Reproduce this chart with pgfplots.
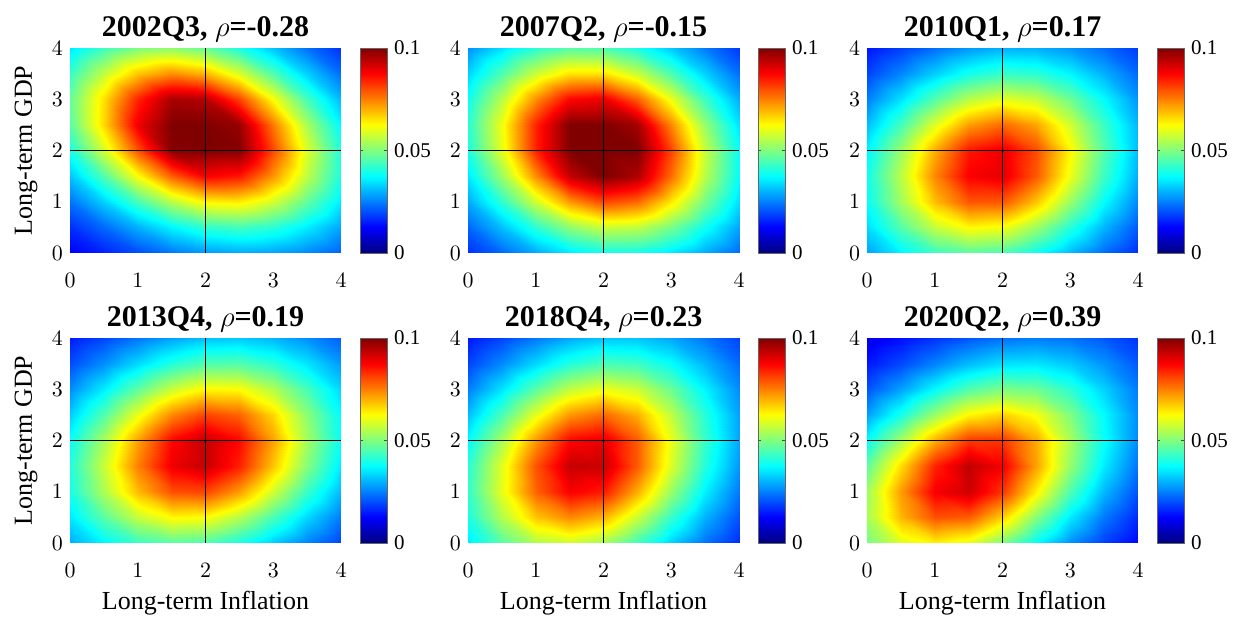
\documentclass[border=0pt]{standalone}
\usepackage{fontspec}
\setmainfont{Liberation Serif}
\usepackage{pgfplots}
\usepackage{pgfplotstable}
\pgfplotsset{compat=1.18}

% ---------- data: density on a 0.5 grid (x varies fastest) ----------
\pgfplotstableread{
x y z
0 0 .0120
0.5 0 .0156
1 0 .0198
1.5 0 .0241
2 0 .0275
2.5 0 .0291
3 0 .0285
3.5 0 .0258
4 0 .0218
0 0.5 .0170
0.5 0.5 .0229
1 0.5 .0299
1.5 0.5 .0369
2 0.5 .0422
2.5 0.5 .0441
3 0.5 .0416
3.5 0.5 .0359
4 0.5 .0287
0 1 .0237
0.5 1 .0330
1 1 .0442
1.5 1 .0554
2 1 .0631
2.5 1 .0641
3 1 .0577
3.5 1 .0470
4 1 .0355
0 1.5 .0319
0.5 1.5 .0456
1 1.5 .0623
1.5 1.5 .0784
2 1.5 .0878
2.5 1.5 .0855
3 1.5 .0729
3.5 1.5 .0560
4 1.5 .0401
0 2 .0403
0.5 2 .0584
1 2 .0799
1.5 2 .0992
2 2 .1000
2.5 2 .0996
3 2 .0805
3.5 2 .0589
4 2 .0407
0 2.5 .0463
0.5 2.5 .0664
1 2.5 .0891
1.5 2.5 .1000
2 2.5 .1000
2.5 2.5 .0977
3 2.5 .0759
3.5 2.5 .0541
4 2.5 .0369
0 3 .0473
0.5 3 .0657
1 3 .0843
1.5 3 .0960
2 3 .0947
2.5 3 .0811
3 3 .0621
3.5 3 .0442
4 3 .0304
0 3.5 .0429
0.5 3.5 .0566
1 3.5 .0685
1.5 3.5 .0740
2 3.5 .0703
2.5 3.5 .0593
3 3.5 .0457
3.5 3.5 .0331
4 3.5 .0233
0 4 .0351
0.5 4 .0436
1 4 .0499
1.5 4 .0515
2 4 .0478
2.5 4 .0403
3 4 .0316
3.5 4 .0235
4 4 .0171
}\tabA

\pgfplotstableread{
x y z
0 0 .0169
0.5 0 .0227
1 0 .0292
1.5 0 .0353
2 0 .0390
2.5 0 .0390
3 0 .0353
3.5 0 .0293
4 0 .0228
0 0.5 .0226
0.5 0.5 .0315
1 0.5 .0419
1.5 0.5 .0517
2 0.5 .0574
2.5 0.5 .0564
3 0.5 .0492
3.5 0.5 .0389
4 0.5 .0288
0 1 .0292
0.5 1 .0421
1 1 .0577
1.5 1 .0725
2 1 .0804
2.5 1 .0772
3 1 .0645
3.5 1 .0486
4 1 .0344
0 1.5 .0357
0.5 1.5 .0527
1 1.5 .0738
1.5 1.5 .0936
2 1.5 .1000
2.5 1.5 .0958
3 1.5 .0769
3.5 1.5 .0556
4 1.5 .0379
0 2 .0404
0.5 2 .0602
1 2 .0845
1.5 2 .1000
2 2 .1000
2.5 2 .1000
3 2 .0809
3.5 2 .0570
4 2 .0381
0 2.5 .0416
0.5 2.5 .0613
1 2.5 .0844
1.5 2.5 .1000
2 2.5 .1000
2.5 2.5 .0966
3 2.5 .0744
3.5 2.5 .0522
4 2.5 .0349
0 3 .0390
0.5 3 .0555
1 3 .0737
1.5 3 .0873
2 3 .0892
2.5 3 .0783
3 3 .0607
3.5 3 .0432
4 3 .0295
0 3.5 .0334
0.5 3.5 .0455
1 3.5 .0576
1.5 3.5 .0655
2 3.5 .0655
2.5 3.5 .0575
3 3.5 .0454
3.5 3.5 .0333
4 3.5 .0235
0 4 .0267
0.5 4 .0346
1 4 .0418
1.5 4 .0459
2 4 .0451
2.5 4 .0399
3 4 .0322
3.5 4 .0245
4 4 .0179
}\tabB

\pgfplotstableread{
x y z
0 0 .0283
0.5 0 .0363
1 0 .0431
1.5 0 .0463
2 0 .0445
2.5 0 .0385
3 0 .0306
3.5 0 .0230
4 0 .0167
0 0.5 .0342
0.5 0.5 .0459
1 0.5 .0569
1.5 0.5 .0631
2 0.5 .0616
2.5 0.5 .0530
3 0.5 .0413
3.5 0.5 .0302
4 0.5 .0212
0 1 .0383
0.5 1 .0534
1 1 .0689
1.5 1 .0791
2 1 .0788
2.5 1 .0681
3 1 .0525
3.5 1 .0375
4 1 .0258
0 1.5 .0392
0.5 1.5 .0559
1 1.5 .0744
1.5 1.5 .0881
2 1.5 .0900
2.5 1.5 .0789
3 1.5 .0609
3.5 1.5 .0433
4 1.5 .0295
0 2 .0365
0.5 2 .0524
1 2 .0706
1.5 2 .0854
2 2 .0894
2.5 2 .0803
3 2 .0632
3.5 2 .0455
4 2 .0312
0 2.5 .0312
0.5 2.5 .0444
1 2.5 .0595
1.5 2.5 .0724
2 2.5 .0774
2.5 2.5 .0716
3 2.5 .0583
3.5 2.5 .0432
4 2.5 .0303
0 3 .0250
0.5 3 .0347
1 3 .0457
1.5 3 .0554
2 3 .0599
2.5 3 .0571
3 3 .0483
3.5 3 .0374
4 3 .0272
0 3.5 .0192
0.5 3.5 .0258
1 3.5 .0331
1.5 3.5 .0396
2 3.5 .0431
2.5 3.5 .0421
3 3.5 .0371
3.5 3.5 .0300
4 3.5 .0228
0 4 .0143
0.5 4 .0186
1 4 .0233
1.5 4 .0274
2 4 .0299
2.5 4 .0297
3 4 .0271
3.5 4 .0228
4 4 .0182
}\tabC

\pgfplotstableread{
x y z
0 0 .0292
0.5 0 .0367
1 0 .0430
1.5 0 .0462
2 0 .0449
2.5 0 .0398
3 0 .0326
3.5 0 .0252
4 0 .0189
0 0.5 .0355
0.5 0.5 .0465
1 0.5 .0569
1.5 0.5 .0631
2 0.5 .0625
2.5 0.5 .0554
3 0.5 .0447
3.5 0.5 .0338
4 0.5 .0245
0 1 .0399
0.5 1 .0544
1 1 .0692
1.5 1 .0796
2 1 .0807
2.5 1 .0721
3 1 .0577
3.5 1 .0429
4 1 .0305
0 1.5 .0409
0.5 1.5 .0572
1 1.5 .0751
1.5 1.5 .0892
2 1.5 .0931
2.5 1.5 .0846
3 1.5 .0682
3.5 1.5 .0504
4 1.5 .0355
0 2 .0382
0.5 2 .0538
1 2 .0718
1.5 2 .0871
2 2 .0934
2.5 2 .0870
3 2 .0716
3.5 2 .0537
4 2 .0381
0 2.5 .0327
0.5 2.5 .0457
1 2.5 .0608
1.5 2.5 .0744
2 2.5 .0813
2.5 2.5 .0781
3 2.5 .0664
3.5 2.5 .0513
4 2.5 .0373
0 3 .0262
0.5 3 .0359
1 3 .0469
1.5 3 .0572
2 3 .0632
2.5 3 .0624
3 3 .0550
3.5 3 .0443
4 3 .0334
0 3.5 .0200
0.5 3.5 .0267
1 3.5 .0341
1.5 3.5 .0411
2 3.5 .0455
2.5 3.5 .0459
3 3.5 .0419
3.5 3.5 .0352
4 3.5 .0278
0 4 .0149
0.5 4 .0193
1 4 .0240
1.5 4 .0285
2 4 .0315
2.5 4 .0322
3 4 .0303
3.5 4 .0265
4 4 .0218
}\tabD

\pgfplotstableread{
x y z
0 0 .0354
0.5 0 .0461
1 0 .0546
1.5 0 .0574
2 0 .0531
2.5 0 .0437
3 0 .0331
3.5 0 .0237
4 0 .0166
0 0.5 .0404
0.5 0.5 .0550
1 0.5 .0682
1.5 0.5 .0742
2 0.5 .0698
2.5 0.5 .0574
3 0.5 .0428
3.5 0.5 .0300
4 0.5 .0205
0 1 .0427
0.5 1 .0602
1 1 .0778
1.5 1 .0880
2 1 .0849
2.5 1 .0705
3 1 .0523
3.5 1 .0362
4 1 .0243
0 1.5 .0416
0.5 1.5 .0598
1 1.5 .0796
1.5 1.5 .0931
2 1.5 .0928
2.5 1.5 .0788
3 1.5 .0590
3.5 1.5 .0409
4 1.5 .0274
0 2 .0373
0.5 2 .0539
1 2 .0727
1.5 2 .0872
2 2 .0898
2.5 2 .0788
3 2 .0606
3.5 2 .0428
4 2 .0289
0 2.5 .0313
0.5 2.5 .0448
1 2.5 .0602
1.5 2.5 .0731
2 2.5 .0774
2.5 2.5 .0705
3 2.5 .0564
3.5 2.5 .0412
4 2.5 .0285
0 3 .0249
0.5 3 .0349
1 3 .0463
1.5 3 .0563
2 3 .0608
2.5 3 .0574
3 3 .0480
3.5 3 .0366
4 3 .0263
0 3.5 .0192
0.5 3.5 .0262
1 3.5 .0340
1.5 3.5 .0411
2 3.5 .0449
2.5 3.5 .0437
3 3.5 .0382
3.5 3.5 .0305
4 3.5 .0229
0 4 .0145
0.5 4 .0192
1 4 .0244
1.5 4 .0292
2 4 .0320
2.5 4 .0319
3 4 .0289
3.5 4 .0241
4 4 .0189
}\tabE

\pgfplotstableread{
x y z
0 0 .0487
0.5 0 .0592
1 0 .0636
1.5 0 .0597
2 0 .0495
2.5 0 .0374
3 0 .0266
3.5 0 .0185
4 0 .0128
0 0.5 .0538
0.5 0.5 .0697
1 0.5 .0798
1.5 0.5 .0786
2 0.5 .0669
2.5 0.5 .0507
3 0.5 .0357
3.5 0.5 .0243
4 0.5 .0164
0 1 .0531
0.5 1 .0724
1 1 .0883
1.5 1 .0924
2 1 .0822
2.5 1 .0637
3 1 .0451
3.5 1 .0304
4 1 .0203
0 1.5 .0468
0.5 1.5 .0659
1 1.5 .0844
1.5 1.5 .0938
2 1.5 .0885
2.5 1.5 .0718
3 1.5 .0522
3.5 1.5 .0357
4 1.5 .0237
0 2 .0376
0.5 2 .0534
1 2 .0703
1.5 2 .0821
2 2 .0824
2.5 2 .0710
3 2 .0542
3.5 2 .0383
4 2 .0260
0 2.5 .0283
0.5 2.5 .0399
1 2.5 .0528
1.5 2.5 .0635
2 2.5 .0671
2.5 2.5 .0617
3 2.5 .0502
3.5 2.5 .0373
4 2.5 .0263
0 3 .0206
0.5 3 .0283
1 3 .0373
1.5 3 .0454
2 3 .0497
2.5 3 .0483
3 3 .0419
3.5 3 .0331
4 3 .0245
0 3.5 .0147
0.5 3.5 .0197
1 3.5 .0255
1.5 3.5 .0311
2 3.5 .0348
2.5 3.5 .0353
3 3.5 .0324
3.5 3.5 .0272
4 3.5 .0213
0 4 .0104
0.5 4 .0137
1 4 .0173
1.5 4 .0210
2 4 .0237
2.5 4 .0248
3 4 .0238
3.5 4 .0211
4 4 .0174
}\tabF

\tikzset{cross/.style={black, line width=0.7pt}}

\pgfplotsset{
  colormap={myjet}{rgb(0pt)=(0,0,0.5); rgb(1pt)=(0,0,1); rgb(3pt)=(0,1,1); rgb(5pt)=(1,1,0); rgb(7pt)=(1,0,0); rgb(8pt)=(0.5,0,0)},
  dens/.style={
    view={0}{90},
    scale only axis,
    width=135.5pt, height=102.5pt,
    anchor=south west,
    xmin=0, xmax=4, ymin=0, ymax=4,
    xtick={0,1,2,3,4}, ytick={0,1,2,3,4}, ztick=\empty,
    axis line style={draw=none},
    major tick length=0pt,
    tick style={draw=none},
    point meta min=0, point meta max=0.1,
    colormap name=myjet,
    ticklabel style={font=\fontsize{10.5}{11}\selectfont},
    xticklabel style={yshift=-6.5pt},
    every axis title/.style={at={(axis description cs:0.5,1)}, anchor=base, yshift=5.5pt,
      font=\bfseries\fontsize{15}{16}\selectfont},
    every axis x label/.style={at={(axis description cs:0.5,-0.234)}, anchor=north, inner sep=0pt,
      font=\fontsize{13}{14}\selectfont},
    every axis y label/.style={at={(axis description cs:-0.162,0.5)}, anchor=center, rotate=90,
      font=\fontsize{13}{14}\selectfont},
    colorbar,
    colorbar style={
      at={(parent axis.north east)}, anchor=north west, xshift=1pt,
      width=13.5pt,
      ytick={0,0.05,0.1},
      yticklabels={0,0.05,0.1},
      yticklabel style={font=\fontsize{10.5}{11}\selectfont},
      major tick length=1.5pt,
      tick style={draw=black!70, line width=0.4pt},
      axis line style={draw=black!60, line width=0.4pt},
    },
  },
  hm/.style={surf, shader=interp, mesh/cols=9},
}

\begin{document}
\begin{tikzpicture}
\path[use as bounding box] (0,0) rectangle (620pt,309.5pt);

\begin{axis}[dens, at={(35pt,183pt)}, title={2002Q3, $\rho$=-0.28}, ylabel={Long-term GDP}]
\addplot3[hm] table[x=x,y=y,z=z] {\tabA};
\draw[cross] (axis cs:2,0,0) -- (axis cs:2,4,0);
\draw[cross] (axis cs:0,2,0) -- (axis cs:4,2,0);
\end{axis}

\begin{axis}[dens, at={(234pt,183pt)}, title={2007Q2, $\rho$=-0.15}]
\addplot3[hm] table[x=x,y=y,z=z] {\tabB};
\draw[cross] (axis cs:2,0,0) -- (axis cs:2,4,0);
\draw[cross] (axis cs:0,2,0) -- (axis cs:4,2,0);
\end{axis}

\begin{axis}[dens, at={(433.5pt,183pt)}, title={2010Q1, $\rho$=0.17}]
\addplot3[hm] table[x=x,y=y,z=z] {\tabC};
\draw[cross] (axis cs:2,0,0) -- (axis cs:2,4,0);
\draw[cross] (axis cs:0,2,0) -- (axis cs:4,2,0);
\end{axis}

\begin{axis}[dens, at={(35pt,38pt)}, title={2013Q4, $\rho$=0.19}, ylabel={Long-term GDP}, xlabel={Long-term Inflation}]
\addplot3[hm] table[x=x,y=y,z=z] {\tabD};
\draw[cross] (axis cs:2,0,0) -- (axis cs:2,4,0);
\draw[cross] (axis cs:0,2,0) -- (axis cs:4,2,0);
\end{axis}

\begin{axis}[dens, at={(234pt,38pt)}, title={2018Q4, $\rho$=0.23}, xlabel={Long-term Inflation}]
\addplot3[hm] table[x=x,y=y,z=z] {\tabE};
\draw[cross] (axis cs:2,0,0) -- (axis cs:2,4,0);
\draw[cross] (axis cs:0,2,0) -- (axis cs:4,2,0);
\end{axis}

\begin{axis}[dens, at={(433.5pt,38pt)}, title={2020Q2, $\rho$=0.39}, xlabel={Long-term Inflation}]
\addplot3[hm] table[x=x,y=y,z=z] {\tabF};
\draw[cross] (axis cs:2,0,0) -- (axis cs:2,4,0);
\draw[cross] (axis cs:0,2,0) -- (axis cs:4,2,0);
\end{axis}

\end{tikzpicture}
\end{document}
